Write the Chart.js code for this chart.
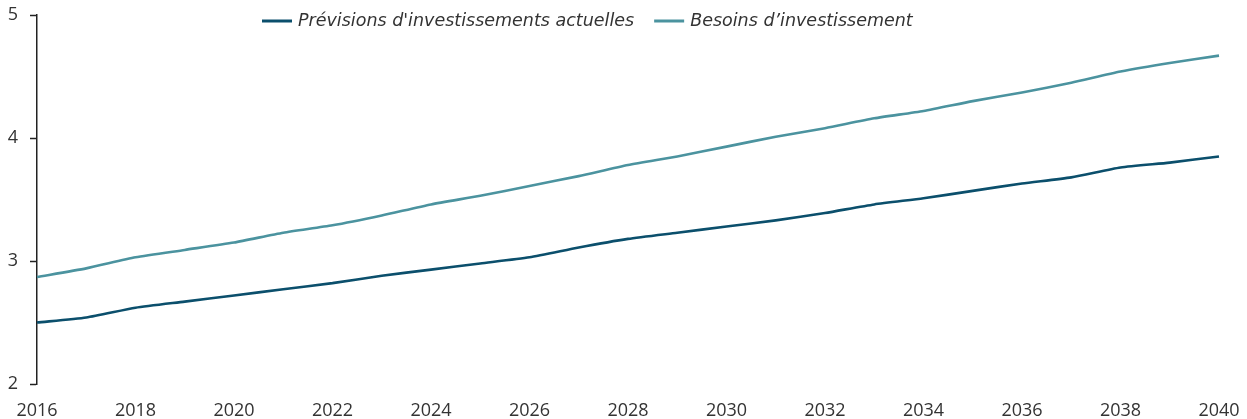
<!DOCTYPE html>
<html>
<head>
<meta charset="utf-8">
<script src="https://cdn.jsdelivr.net/npm/chart.js@4"></script>
<style>
  html, body { margin: 0; padding: 0; background: #fff; }
  #wrap { width: 1247px; height: 419px; position: relative; }
</style>
</head>
<body>
<div id="wrap"><canvas id="myChart"></canvas></div>
<script>
const years = [];
for (let y = 2016; y <= 2040; y++) years.push(String(y));

const previsions = [2.50, 2.54, 2.62, 2.67, 2.72, 2.77, 2.82, 2.88, 2.93, 2.98, 3.03, 3.11, 3.18,
                    3.23, 3.28, 3.33, 3.39, 3.46, 3.51, 3.57, 3.63, 3.68, 3.76, 3.80, 3.85];
const besoins = [2.87, 2.94, 3.03, 3.09, 3.15, 3.23, 3.29, 3.37, 3.46, 3.53, 3.61, 3.69, 3.78,
                 3.85, 3.93, 4.01, 4.08, 4.16, 4.22, 4.30, 4.37, 4.45, 4.54, 4.61, 4.67];
const seriesNames = ["Prévisions d'investissements actuelles", "Besoins d’investissement"];

const darkBlue = '#0b4f6c';
const lightTeal = '#4b939f';

Chart.defaults.font.family = '"Open Sans", sans-serif';
Chart.defaults.color = '#333';

// legend drawn inside the plot, across the top
const topLegend = {
    id: 'topLegend',
    afterDraw(chart) {
        const c = chart.ctx;
        const area = chart.chartArea;
        c.save();
        c.font = 'italic 17.5px "DejaVu Sans", sans-serif';
        c.textBaseline = 'middle';
        const lineW = 30, gap = 6, between = 20;
        let x = area.left + 225;
        const y = 21;
        chart.data.datasets.forEach(ds => {
            c.strokeStyle = ds.borderColor;
            c.lineWidth = 3;
            c.beginPath();
            c.moveTo(x, y);
            c.lineTo(x + lineW, y);
            c.stroke();
            x += lineW + gap;
            c.fillStyle = '#333';
            c.fillText(ds.label, x, y);
            x += c.measureText(ds.label).width + between;
        });
        c.restore();
    }
};

const ctx = document.getElementById('myChart').getContext('2d');
const myChart = new Chart(ctx, {
    type: 'line',
    data: {
        labels: years,
        datasets: [{
            label: seriesNames[0],
            data: previsions,
            borderColor: darkBlue,
            backgroundColor: darkBlue,
            borderWidth: 2.6,
            pointRadius: 0,
            tension: 0.2
        }, {
            label: seriesNames[1],
            data: besoins,
            borderColor: lightTeal,
            backgroundColor: lightTeal,
            borderWidth: 2.6,
            pointRadius: 0,
            tension: 0.2
        }]
    },
    options: {
        responsive: true,
        maintainAspectRatio: false,
        animation: false,
        layout: { padding: { left: 0, right: 28, top: 15, bottom: 0 } },
        plugins: {
            tooltip: { enabled: false },
            legend: { display: false }
        },
        scales: {
            x: {
                offset: false,
                grid: { display: false, drawTicks: false },
                border: { display: false },
                afterFit: s => { s.height = 35; s.paddingLeft = 0; s.paddingRight = 0; },
                ticks: {
                    autoSkip: false,
                    maxRotation: 0,
                    padding: 16,
                    font: { size: 18 },
                    color: '#333',
                    callback: function (val, i) { return i % 2 === 0 ? this.getLabelForValue(val) : ''; }
                }
            },
            y: {
                min: 2,
                max: 5,
                afterFit: s => { s.width = 37; s.paddingTop = 0; s.paddingBottom = 0; },
                grid: { drawOnChartArea: false, color: '#222', tickLength: 7, tickWidth: 1.5 },
                border: { display: true, color: '#222', width: 1.5 },
                ticks: { stepSize: 1, padding: 12, font: { size: 18 }, color: '#333' }
            }
        }
    },
    plugins: [topLegend]
});
</script>
</body>
</html>
